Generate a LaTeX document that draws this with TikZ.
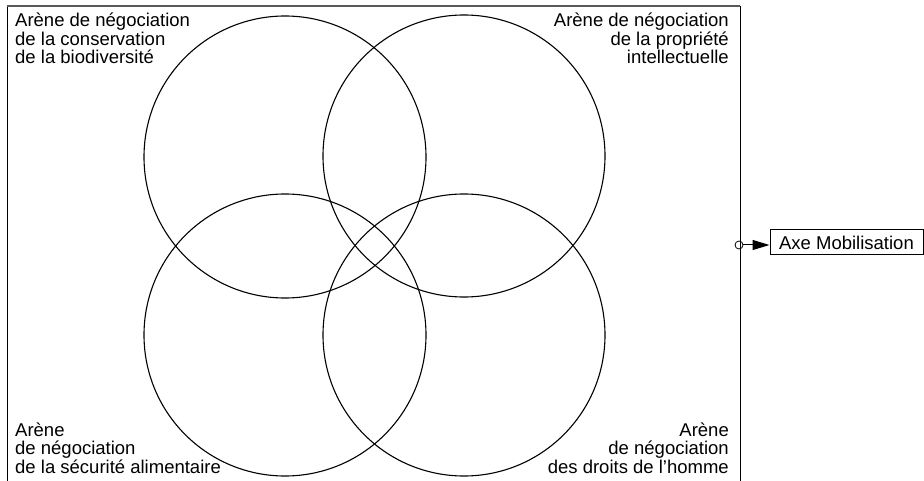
\documentclass[tikz,border=0pt]{standalone}
\usepackage{fontspec}
\setmainfont{Liberation Sans}
\usetikzlibrary{arrows.meta}
\begin{document}
\begin{tikzpicture}[x=1pt,y=-1pt,
  arena/.style={draw=black,line width=1.1pt},
  lbl/.style={inner sep=0pt,font=\fontsize{18.5}{18.5}\selectfont},
  frameline/.style={draw=black,line width=0.9pt}]
\useasboundingbox (0,0) rectangle (924,481);
% frame
\coordinate (fbl) at (7,482);
\coordinate (ftl) at (7,6);
\coordinate (ftr) at (740,6);
\coordinate (fbr) at (740,482);
\draw[frameline] (fbl) -- (ftl);
\draw[draw=black!65,line width=1.5pt] (ftl) -- (ftr);
\draw[frameline] (ftr) -- (fbr);
% circles
\draw[arena] (285,157) circle (141);
\draw[arena] (464,156) circle (141);
\draw[arena] (285,335) circle (141);
\draw[arena] (464,335) circle (141);
% labels (base anchor = baseline of the last line)
\node[lbl,anchor=base west,align=left] (tl) at (15,64) {Arène de négociation\\de la conservation\\de la biodiversité};
\node[lbl,anchor=base east,align=right] (tr) at (729,64) {Arène de négociation\\de la propriété\\intellectuelle};
\node[lbl,anchor=base west,align=left] (bl) at (15,473) {Arène\\de négociation\\de la sécurité alimentaire};
\node[lbl,anchor=base east,align=right] (br) at (729,473) {Arène\\de négociation\\des droits de l’homme};
% output
\node[circle,draw,line width=0.8pt,minimum size=8pt,inner sep=0pt] (port) at (739,245) {};
\node[draw,line width=1pt,minimum width=153pt,minimum height=25pt,inner sep=0pt,font=\fontsize{18.5}{18.5}\selectfont] (axe) at (846.5,242.5) {Axe Mobilisation};
\draw[line width=1pt,-{Triangle[length=17pt,width=10pt]}] (port.east) -- (port.east -| axe.west);
\end{tikzpicture}
\end{document}
